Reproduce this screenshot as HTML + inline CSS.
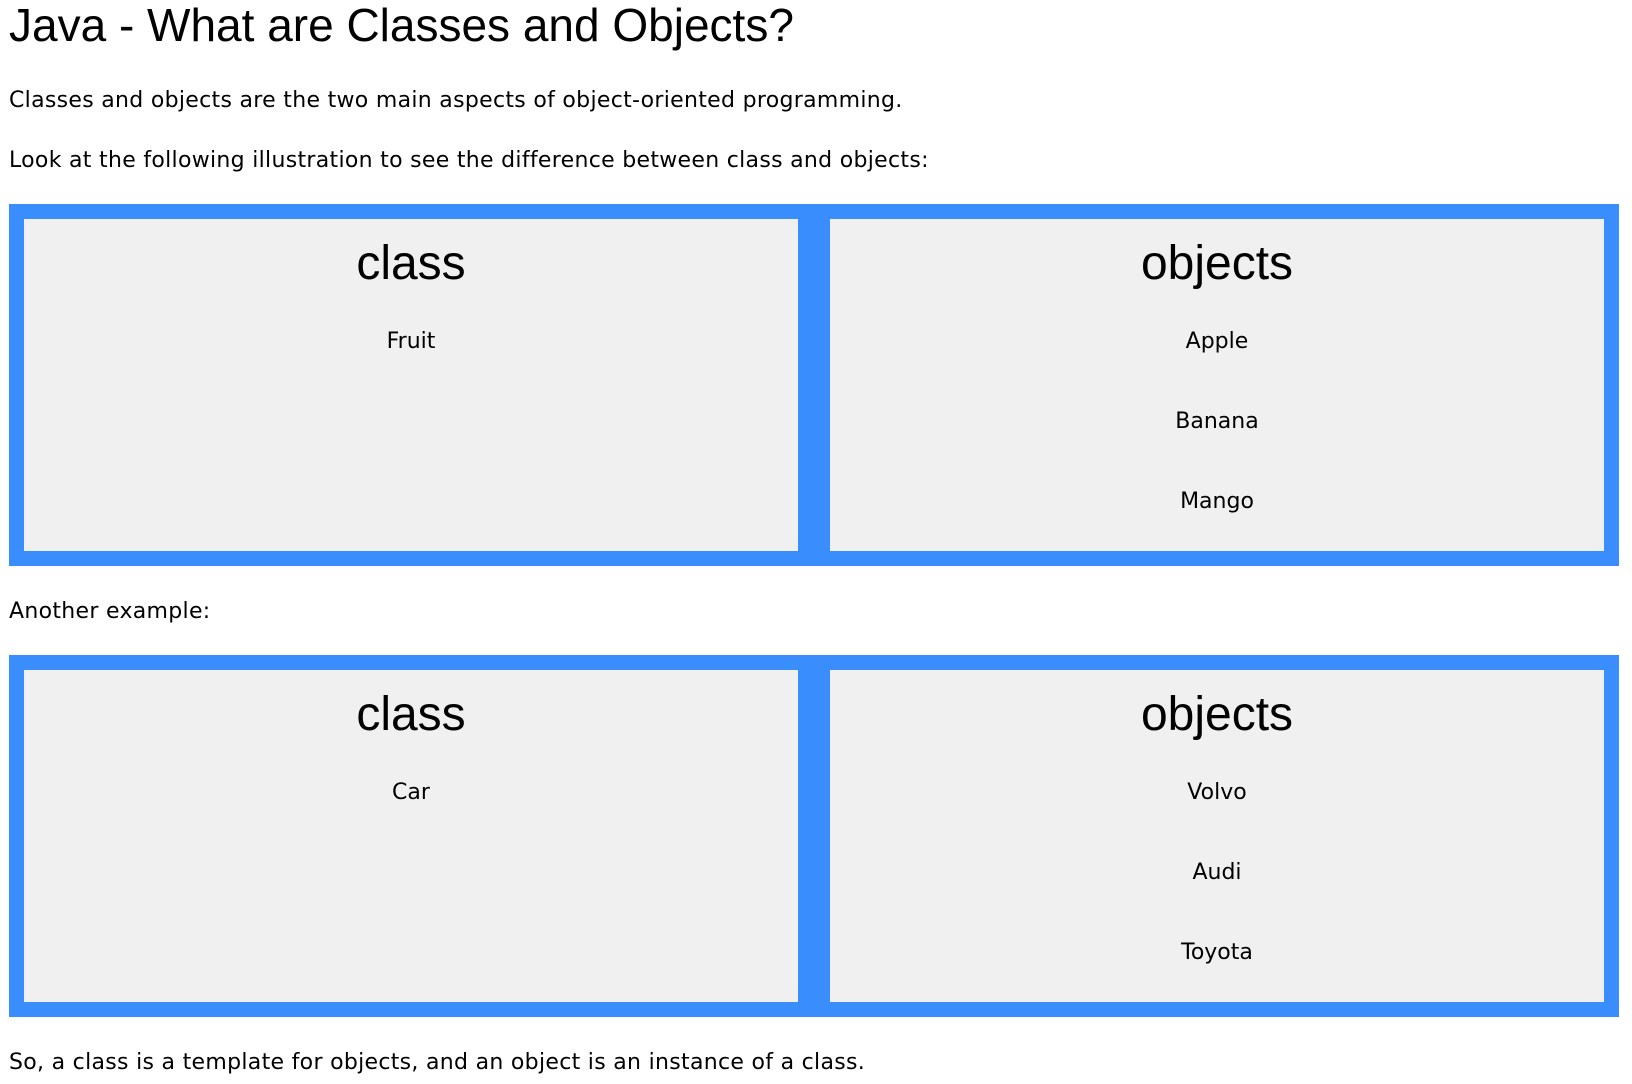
<!DOCTYPE html>
<html><head><meta charset="utf-8"><style>
body{margin:0;width:1632px;height:1084px;background:#fff;position:relative;overflow:hidden;font-family:"DejaVu Sans","Liberation Sans",sans-serif;color:#000}
.t{position:absolute;white-space:nowrap;line-height:1}
.b{font-size:22px;letter-spacing:0.3px}
.box{position:absolute;left:9px;width:1610px;background:#398dfd}
.p{position:absolute;background:#f0f0f0;top:15px;bottom:15px;width:774px}
.c{position:absolute;left:0;right:0;text-align:center;line-height:1;white-space:nowrap}
.h{font-family:"Liberation Sans",sans-serif;font-size:48px}
.s{font-size:22px}
</style></head><body>
<div class="t" style="left:9px;top:2px;font-family:'Liberation Sans',sans-serif;font-size:46px">Java - What are Classes and Objects?</div>
<div class="t b" style="left:9px;top:90px">Classes and objects are the two main aspects of object-oriented programming.</div>
<div class="t b" style="left:9px;top:150px">Look at the following illustration to see the difference between class and objects:</div>

<div class="box" style="top:204px;height:362px">
 <div class="p" style="left:15px"><div class="c h" style="top:21px">class</div><div class="c s" style="top:112px">Fruit</div></div>
 <div class="p" style="left:821px"><div class="c h" style="top:21px">objects</div><div class="c s" style="top:112px">Apple</div><div class="c s" style="top:192px">Banana</div><div class="c s" style="top:272px">Mango</div></div>
</div>

<div class="t b" style="left:9px;top:601px">Another example:</div>

<div class="box" style="top:655px;height:362px">
 <div class="p" style="left:15px"><div class="c h" style="top:21px">class</div><div class="c s" style="top:112px">Car</div></div>
 <div class="p" style="left:821px"><div class="c h" style="top:21px">objects</div><div class="c s" style="top:112px">Volvo</div><div class="c s" style="top:192px">Audi</div><div class="c s" style="top:272px">Toyota</div></div>
</div>

<div class="t b" style="left:9px;top:1052px">So, a class is a template for objects, and an object is an instance of a class.</div>
</body></html>
